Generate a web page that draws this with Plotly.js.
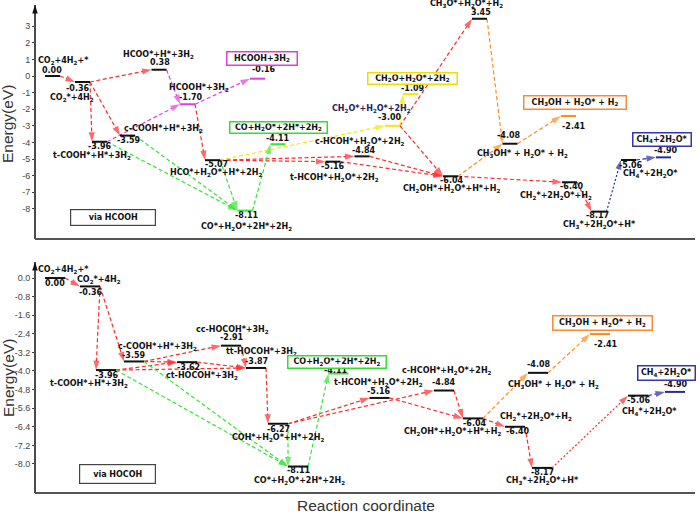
<!DOCTYPE html>
<html><head><meta charset="utf-8">
<script src="https://cdn.plot.ly/plotly-3.0.1.min.js"></script>
<style>html,body{margin:0;padding:0;background:#fff}#chart{width:700px;height:514px}</style>
</head><body><div id="chart"></div>
<script>
// ================= DATA =================
// Top panel: pathway via HCOOH
const hcoohNames = [
 'CO<sub>2</sub>+4H<sub>2</sub>+*',
 'CO<sub>2</sub>*+4H<sub>2</sub>',
 'HCOO*+H*+3H<sub>2</sub>',
 't-COOH*+H*+3H<sub>2</sub>',
 'c-COOH*+H*+3H<sub>2</sub>',
 'HCOOH*+3H<sub>2</sub>',
 'HCOOH+3H<sub>2</sub>',
 'HCO*+H<sub>2</sub>O*+H*+2H<sub>2</sub>',
 'CO*+H<sub>2</sub>O*+2H*+2H<sub>2</sub>',
 'CO+H<sub>2</sub>O*+2H*+2H<sub>2</sub>',
 'CH<sub>2</sub>O*+H<sub>2</sub>O*+2H<sub>2</sub>',
 'CH<sub>2</sub>O+H<sub>2</sub>O*+2H<sub>2</sub>',
 't-HCOH*+H<sub>2</sub>O*+2H<sub>2</sub>',
 'c-HCOH*+H<sub>2</sub>O*+2H<sub>2</sub>',
 'CH<sub>2</sub>OH*+H<sub>2</sub>O*+H*+H<sub>2</sub>',
 'CH<sub>3</sub>O*+H<sub>2</sub>O*+H<sub>2</sub>',
 'CH<sub>3</sub>OH* + H<sub>2</sub>O* + H<sub>2</sub>',
 'CH<sub>3</sub>OH + H<sub>2</sub>O* + H<sub>2</sub>',
 'CH<sub>2</sub>*+2H<sub>2</sub>O*+H<sub>2</sub>',
 'CH<sub>3</sub>*+2H<sub>2</sub>O*+H*',
 'CH<sub>4</sub>*+2H<sub>2</sub>O*',
 'CH<sub>4</sub>+2H<sub>2</sub>O*'
];
const hcoohEnergy = [0.00,-0.36,0.38,-3.96,-3.59,-1.70,-0.16,-5.07,-8.11,-4.11,-3.00,-1.09,-5.16,-4.84,-6.04,3.45,-4.08,-2.41,-6.40,-8.17,-5.06,-4.90];
const hcoohCoord  = [17.5,47.5,124,64.5,92.5,152.5,222.5,177.5,210,243,357.5,375.5,298,327,415.5,444.5,475,533.5,534.5,564,593.5,628.5];
const hcoohStepFrom = [0,1,1,1,5,7,7,12,13,10,10,14,18, 2,3,5, 3,4,7,8, 7,10, 15,14,16, 19,20];
const hcoohStepTo   = [1,2,3,4,7,12,13,14,14,14,15,18,19, 5,5,6, 8,8,8,9, 10,11, 16,16,17, 20,21];
const hcoohStepKind = ['r','r','r','r','r','r','r','r','r','r','r','r','r','m','m','m','g','g','g','g','y','y','o','o','o','b','b'];

// Bottom panel: pathway via HOCOH
const hocohNames = [
 'CO<sub>2</sub>+4H<sub>2</sub>+*',
 'CO<sub>2</sub>*+4H<sub>2</sub>',
 't-COOH*+H*+3H<sub>2</sub>',
 'c-COOH*+H*+3H<sub>2</sub>',
 'ct-HOCOH*+3H<sub>2</sub>',
 'cc-HOCOH*+3H<sub>2</sub>',
 'tt-HOCOH*+3H<sub>2</sub>',
 'COH*+H<sub>2</sub>O*+H*+2H<sub>2</sub>',
 'CO*+H<sub>2</sub>O*+2H*+2H<sub>2</sub>',
 'CO+H<sub>2</sub>O*+2H*+2H<sub>2</sub>',
 't-HCOH*+H<sub>2</sub>O*+2H<sub>2</sub>',
 'c-HCOH*+H<sub>2</sub>O*+2H<sub>2</sub>',
 'CH<sub>2</sub>OH*+H<sub>2</sub>O*+H*+H<sub>2</sub>',
 'CH<sub>2</sub>*+2H<sub>2</sub>O*+H<sub>2</sub>',
 'CH<sub>3</sub>*+2H<sub>2</sub>O*+H*',
 'CH<sub>3</sub>OH* + H<sub>2</sub>O* + H<sub>2</sub>',
 'CH<sub>3</sub>OH + H<sub>2</sub>O* + H<sub>2</sub>',
 'CH<sub>4</sub>*+2H<sub>2</sub>O*',
 'CH<sub>4</sub>+2H<sub>2</sub>O*'
];
const hocohEnergy = [0.00,-0.36,-3.96,-3.59,-3.62,-2.91,-3.87,-6.27,-8.11,-4.11,-5.16,-4.84,-6.04,-6.40,-8.17,-4.08,-2.41,-5.06,-4.90];
const hocohCoord  = [20,55,71,99,152,196,221,243,263,303.5,344.5,409,438,480,507,503,565,603,640];
const hocohStepFrom = [0,1,1,3,3,2,2,4,5,6,7,7,10,11,12,13,14, 2,3,7,8, 12,15, 17];
const hocohStepTo   = [1,2,3,5,4,4,6,6,6,7,10,11,12,12,13,14,17, 8,8,8,9, 15,16, 18];
const hocohStepKind = ['r','r','r','r','r','r','r','r','r','r','r','r','r','r','r','r','r','g','g','g','g','o','o','b'];

const topTicks = [3,2,1,0,-1,-2,-3,-4,-5,-6,-7,-8];
const topTickText = ['3','2','1','0','-1','-2','-3','-4','-5','-6','-7','-8'];
const botTicks = [0,-0.8,-1.6,-2.4,-3.2,-4.0,-4.8,-5.6,-6.4,-7.2,-8.0];
const botTickText = ['0.0','-0.8','-1.6','-2.4','-3.2','-4.0','-4.8','-5.6','-6.4','-7.2','-8.0'];

// ================= STYLE =================
const COL = {r:'#ff2a2a', m:'#e83cd8', g:'#33e633', y:'#f2ea00', o:'#ff8c1a', b:'#2a2aa0', k:'#111111'};
const BOXCOL = {m:'#e040d0', g:'#33dd33', y:'#eedd00', o:'#ff8833', b:'#3535b0'};
const W = 700, H = 514, ML = 35, MR = 5, MT = 5, MB = 21;
const PW = W-ML-MR, PH = H-MT-MB;
const XR = [0,660];
const topYR = [-9.82, 4.28], botYR = [-9.25, 0.69];
const topDom = [(493-239)/PH, 1], botDom = [0, (493-262)/PH];

const topStyle = {
  hw: 7.5,
  levelCol: {5:'m',6:'m',8:'g',9:'g',10:'y',11:'y',17:'o',21:'b'},
  box: {6:['m',72,15],9:['g',99,13],11:['y',91,13],17:['o',104,15],21:['b',60,15]},
  valOff: [[-0.5,-6],[-5.5,6],[1,-7],[-0.5,5],[0.5,5],[2.5,-7],[5.5,-9],[3.5,4],[1,5],[-1,-6],[-3.5,-8],[1.5,-6],[-1,5],[1,-6],[0.5,4],[1.5,-6],[-2,-8],[4.5,10],[1.5,4],[-2,4],[1.5,5],[1.5,-7]],
  nameOff: [[10.5,-15],[-10.5,16],[-1,-14.5],[-7.5,14],[35.5,-7],[11.5,-16],[4.5,-20],[3.5,13],[1,16],[0,-17],[-21.5,-17],[1.5,-16],[1,16],[-2,-14],[0.5,13],[-13.5,-15],[12,10],[6.5,-14],[-13.5,14],[0,13],[21.5,14],[-1.5,-18]],
  nameCol: {10:'#22225a'},
  dotted: {25:true}
};
const botStyle = {
  hw: 10,
  levelCol: {9:'g',16:'o',18:'b'},
  box: {9:['g',100,14],16:['o',101,16],18:['b',59,16]},
  valOff: [[0,5],[0,6],[0,5],[-1,-6],[1,5],[0,-8],[0,-6],[0,6],[0,4],[-3.5,-3],[-1.5,-6],[-1,-8],[1,5],[2,5],[0,5],[0,-8],[5,10],[0,5],[0,-7]],
  nameOff: [[8,-8],[9,-6],[-17,14],[23,-14],[15,14],[1,-16],[5,-16],[0,14],[1,14],[-1.5,-12],[-1.5,-15],[3,-20],[-21,14],[21,-10],[0,13],[15,12],[2,-11],[11,16],[-9,-19]],
  nameCol: {},
  dotted: {16:true}
};

const LBL = {family:'DejaVu Sans', size:8, color:'#111', weight:'bold'};
const traces = [];
const annotations = [];
const shapes = [];

function panel(names, energy, coord, sFrom, sTo, sKind, st, xa, ya, yr, dom) {
  // reaction steps: dashed line ending in an arrow marker oriented along the step
  for (let i=0;i<sFrom.length;i++) {
    const a = sFrom[i], b = sTo[i];
    const col = COL[sKind[i]];
    traces.push({x:[coord[a]+st.hw, coord[b]-st.hw], y:[energy[a], energy[b]], xaxis:xa, yaxis:ya,
      mode:'lines+markers', hoverinfo:'skip', cliponaxis:false,
      line:{color:col, width:1.2, dash: st.dotted[i] ? '2px,2px' : '4px,2.5px'},
      marker:{symbol:'arrow', size:[0,10], angleref:'previous', color:col, line:{width:0}}});
  }
  // energy levels + labels
  for (let i=0;i<names.length;i++) {
    const c = st.levelCol[i] ? COL[st.levelCol[i]] : COL.k;
    traces.push({x:[coord[i]-st.hw, coord[i]+st.hw], y:[energy[i],energy[i]], xaxis:xa, yaxis:ya,
      mode:'lines', hoverinfo:'skip', line:{color:c, width:2}});
    const vo = st.valOff[i], no = st.nameOff[i];
    annotations.push({x:coord[i], y:energy[i], xref:xa, yref:ya, text:energy[i].toFixed(2), showarrow:false,
      xshift:vo[0], yshift:-vo[1], font:LBL, xanchor:'center', yanchor:'middle'});
    const bx = st.box[i];
    const ann = {x:coord[i], y:energy[i], xref:xa, yref:ya, text:names[i], showarrow:false,
      xshift:no[0], yshift:-no[1], font:Object.assign({}, LBL, st.nameCol[i]?{color:st.nameCol[i]}:{}),
      xanchor:'center', yanchor:'middle'};
    if (bx) {
      Object.assign(ann, {bordercolor:BOXCOL[bx[0]], borderwidth:1.5, borderpad:1, bgcolor:'#ffffff',
        width:bx[1]-5, height:bx[2]-5});
    }
    annotations.push(ann);
  }
  // axis lines with arrow tips
  shapes.push({type:'line', xref:'paper', yref:'paper', x0:0, x1:0, y0:dom[0], y1:dom[1], line:{color:'#111', width:1.5}});
  shapes.push({type:'line', xref:'paper', yref:'paper', x0:0, x1:1, y0:dom[0], y1:dom[0], line:{color:'#555', width:2}});
  traces.push({x:[XR[0]], y:[yr[1]], xaxis:xa, yaxis:ya, mode:'markers', hoverinfo:'skip', cliponaxis:false,
    marker:{symbol:'arrow', angle:0, size:9, color:'#111', line:{width:0}}});
  traces.push({x:[XR[1]+2], y:[yr[0]], xaxis:xa, yaxis:ya, mode:'markers', hoverinfo:'skip', cliponaxis:false,
    marker:{symbol:'arrow', angle:90, size:9, color:'#444', line:{width:0}}});
}

panel(hcoohNames, hcoohEnergy, hcoohCoord, hcoohStepFrom, hcoohStepTo, hcoohStepKind, topStyle, 'x', 'y', topYR, topDom);
panel(hocohNames, hocohEnergy, hocohCoord, hocohStepFrom, hocohStepTo, hocohStepKind, botStyle, 'x2', 'y2', botYR, botDom);

// via boxes
annotations.push({x:78, y:-8.5, xref:'x', yref:'y', text:'via HCOOH', showarrow:false, font:LBL,
  bordercolor:'#444', borderwidth:1.2, borderpad:1, width:82, height:13, bgcolor:'#fff'});
annotations.push({x:82.5, y:-8.43, xref:'x2', yref:'y2', text:'via HOCOH', showarrow:false, font:LBL,
  bordercolor:'#444', borderwidth:1.2, borderpad:1, width:73, height:16, bgcolor:'#fff'});
// titles
const TF = {family:'Liberation Sans', size:15.5, color:'#333'};
annotations.push({x:0, y:(493-124)/PH, xref:'paper', yref:'paper', xshift:-27, text:'Energy(eV)', textangle:-90,
  showarrow:false, font:TF, xanchor:'center', yanchor:'middle'});
annotations.push({x:0, y:(493-378)/PH, xref:'paper', yref:'paper', xshift:-27, text:'Energy(eV)', textangle:-90,
  showarrow:false, font:TF, xanchor:'center', yanchor:'middle'});
annotations.push({x:(366-ML)/PW, y:0, xref:'paper', yref:'paper', yshift:-12, text:'Reaction coordinate',
  showarrow:false, font:TF, xanchor:'center', yanchor:'middle'});

const yBase = {showgrid:false, zeroline:false, showline:false, ticks:'outside', ticklen:2, tickcolor:'#444',
  tickfont:{family:'Liberation Sans', size:9, color:'#444'}, automargin:false, fixedrange:true};
const xBase = {range:XR, showgrid:false, zeroline:false, showline:false, showticklabels:false, ticks:'', automargin:false};

const layout = {
  width:W, height:H, margin:{l:ML, r:MR, t:MT, b:MB}, showlegend:false,
  paper_bgcolor:'#fff', plot_bgcolor:'#fff',
  xaxis: Object.assign({}, xBase, {domain:[0,1], anchor:'y'}),
  xaxis2: Object.assign({}, xBase, {domain:[0,1], anchor:'y2'}),
  yaxis: Object.assign({}, yBase, {domain:topDom, range:topYR, anchor:'x', tickvals:topTicks, ticktext:topTickText}),
  yaxis2: Object.assign({}, yBase, {domain:botDom, range:botYR, anchor:'x2', tickvals:botTicks, ticktext:botTickText}),
  annotations: annotations,
  shapes: shapes
};
Plotly.newPlot('chart', traces, layout, {staticPlot:true, displayModeBar:false});
</script></body></html>
